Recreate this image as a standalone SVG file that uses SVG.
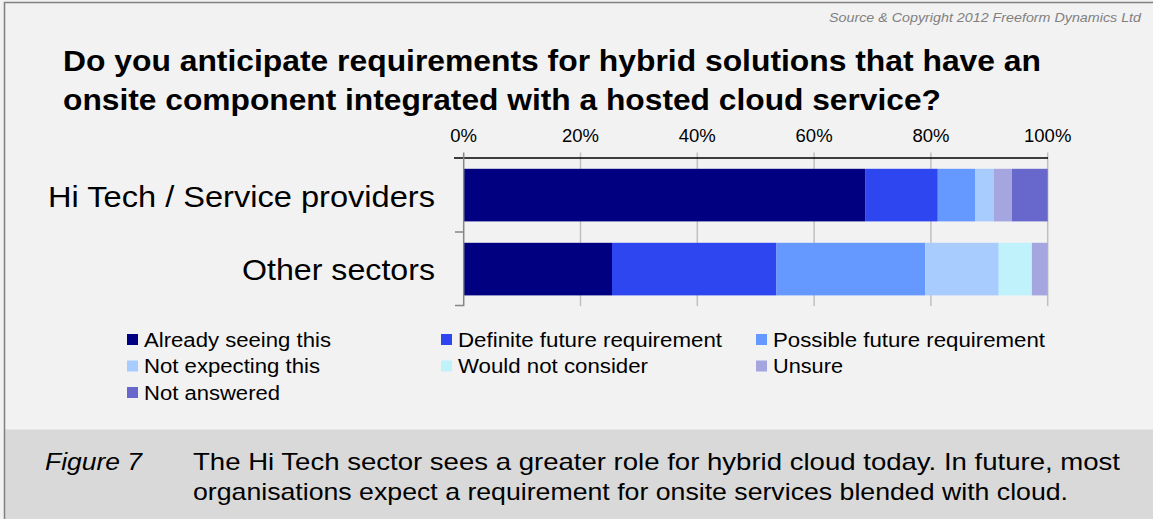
<svg xmlns="http://www.w3.org/2000/svg" width="1153" height="519" viewBox="0 0 1153 519">
  <style>
    text { font-family: "Liberation Sans", Arial, sans-serif; fill: #000; }
    .src { font-size: 13px; font-style: italic; fill: #808080; }
    .title { font-size: 29px; font-weight: bold; }
    .tick { font-size: 18.5px; text-anchor: middle; }
    .cat { font-size: 29px; text-anchor: end; }
    .leg { font-size: 19.5px; }
    .cap { font-size: 24px; }
    .grid { stroke: #c0c0c0; stroke-width: 1.5; }
    .axis { stroke: #868686; stroke-width: 1.5; fill: none; }
    .c1 { fill: #000080; }
    .c2 { fill: #2e46f0; }
    .c3 { fill: #6699ff; }
    .c4 { fill: #a9ccff; }
    .c5 { fill: #c0f2fc; }
    .c6 { fill: #a5a5e0; }
    .c7 { fill: #6868cc; }
  </style>

  <!-- panel backgrounds and frame -->
  <rect x="0" y="0" width="1153" height="519" fill="#f2f2f2"/>
  <rect x="4" y="429.5" width="1149" height="89.5" fill="#d9d9d9"/>
  <path d="M4.5 519 V2.5 H1153" stroke="#808080" stroke-width="1.5" fill="none"/>

  <text class="src" x="1141" y="21.5" text-anchor="end" textLength="312" lengthAdjust="spacingAndGlyphs">Source &amp; Copyright 2012 Freeform Dynamics Ltd</text>

  <g id="title">
    <text class="title" x="63" y="70.5" textLength="978" lengthAdjust="spacingAndGlyphs">Do you anticipate requirements for hybrid solutions that have an</text>
    <text class="title" x="63" y="109.5" textLength="878" lengthAdjust="spacingAndGlyphs">onsite component integrated with a hosted cloud service?</text>
  </g>

  <!-- value axis: gridlines, labels, top axis line -->
  <g id="value-axis">
    <line class="grid" x1="580.5" y1="152.5" x2="580.5" y2="306"/>
    <line class="grid" x1="697.3" y1="152.5" x2="697.3" y2="306"/>
    <line class="grid" x1="814.1" y1="152.5" x2="814.1" y2="306"/>
    <line class="grid" x1="930.9" y1="152.5" x2="930.9" y2="306"/>
    <line class="grid" x1="1047.7" y1="152.5" x2="1047.7" y2="306"/>
    <line x1="454" y1="158" x2="1048" y2="158" stroke="#000" stroke-width="1.3"/>
    <text class="tick" x="463.5" y="142">0%</text>
    <text class="tick" x="580.5" y="142">20%</text>
    <text class="tick" x="697.3" y="142">40%</text>
    <text class="tick" x="814.1" y="142">60%</text>
    <text class="tick" x="930.9" y="142">80%</text>
    <text class="tick" x="1047.7" y="142">100%</text>
  </g>

  <!-- stacked bars -->
  <g id="bar-hitech">
    <rect class="c1" x="463.7" y="168.8" width="401.4" height="52.6"/>
    <rect class="c2" x="865.1" y="168.8" width="72.7" height="52.6"/>
    <rect class="c3" x="937.8" y="168.8" width="37.2" height="52.6"/>
    <rect class="c4" x="975.0" y="168.8" width="18.6" height="52.6"/>
    <rect class="c6" x="993.6" y="168.8" width="18.2" height="52.6"/>
    <rect class="c7" x="1011.8" y="168.8" width="35.9" height="52.6"/>
  </g>
  <g id="bar-other">
    <rect class="c1" x="463.7" y="242.8" width="148.3" height="52.6"/>
    <rect class="c2" x="612.0" y="242.8" width="164.5" height="52.6"/>
    <rect class="c3" x="776.5" y="242.8" width="148.7" height="52.6"/>
    <rect class="c4" x="925.2" y="242.8" width="73.5" height="52.6"/>
    <rect class="c5" x="998.7" y="242.8" width="33.2" height="52.6"/>
    <rect class="c6" x="1031.9" y="242.8" width="15.8" height="52.6"/>
  </g>

  <!-- category axis -->
  <g id="category-axis">
    <path class="axis" d="M463.7 152.5 V306.2 M455 232 H463.7 M455 305.5 H463.7"/>
    <text class="cat" x="435" y="206.5" textLength="387" lengthAdjust="spacingAndGlyphs">Hi Tech / Service providers</text>
    <text class="cat" x="435" y="279.5" textLength="193" lengthAdjust="spacingAndGlyphs">Other sectors</text>
  </g>

  <!-- legend -->
  <g id="legend">
    <rect class="c1" x="127" y="334" width="11" height="11"/>
    <text class="leg" x="144" y="346.7" textLength="187" lengthAdjust="spacingAndGlyphs">Already seeing this</text>
    <rect class="c2" x="441" y="334" width="11" height="11"/>
    <text class="leg" x="458" y="346.7" textLength="264" lengthAdjust="spacingAndGlyphs">Definite future requirement</text>
    <rect class="c3" x="756" y="334" width="11" height="11"/>
    <text class="leg" x="773" y="346.7" textLength="272" lengthAdjust="spacingAndGlyphs">Possible future requirement</text>

    <rect class="c4" x="127" y="360.5" width="11" height="11"/>
    <text class="leg" x="144" y="373.3" textLength="176" lengthAdjust="spacingAndGlyphs">Not expecting this</text>
    <rect class="c5" x="441" y="360.5" width="11" height="11"/>
    <text class="leg" x="458" y="373.3" textLength="190" lengthAdjust="spacingAndGlyphs">Would not consider</text>
    <rect class="c6" x="756" y="360.5" width="11" height="11"/>
    <text class="leg" x="773" y="373.3" textLength="70" lengthAdjust="spacingAndGlyphs">Unsure</text>

    <rect class="c7" x="127" y="387" width="11" height="11"/>
    <text class="leg" x="144" y="400" textLength="136" lengthAdjust="spacingAndGlyphs">Not answered</text>
  </g>

  <!-- caption -->
  <g id="caption">
    <text class="cap" x="45" y="470" font-style="italic" textLength="97" lengthAdjust="spacingAndGlyphs">Figure 7</text>
    <text class="cap" x="193" y="470" textLength="927" lengthAdjust="spacingAndGlyphs">The Hi Tech sector sees a greater role for hybrid cloud today. In future, most</text>
    <text class="cap" x="193" y="500" textLength="875" lengthAdjust="spacingAndGlyphs">organisations expect a requirement for onsite services blended with cloud.</text>
  </g>
</svg>
